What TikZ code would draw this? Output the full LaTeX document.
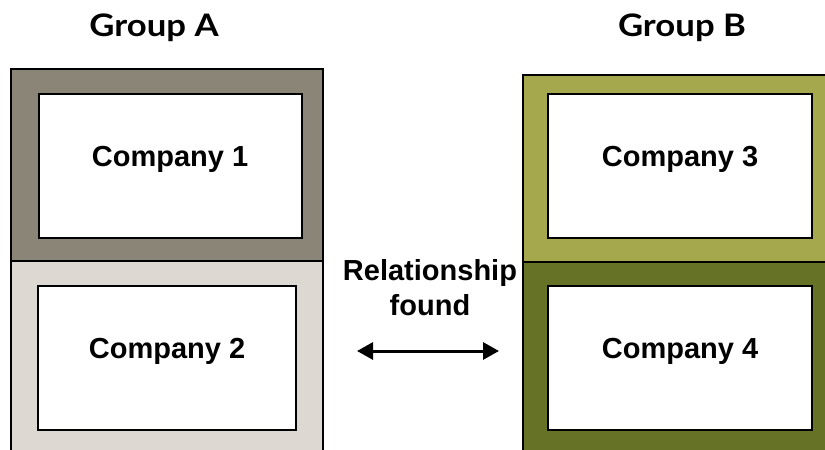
\documentclass[tikz,border=0pt]{standalone}
\usepackage{fontspec}
\setmainfont{Liberation Sans}
\newfontfamily\titlefont{Lato}[FakeStretch=1.12]
\usetikzlibrary{arrows.meta}
\definecolor{taupedark}{HTML}{8B8577}
\definecolor{taupelight}{HTML}{DDD9D2}
\definecolor{olivelight}{HTML}{A5A84C}
\definecolor{olivedark}{HTML}{667225}

\begin{document}
\begin{tikzpicture}[x=1pt, y=-1pt,
    groupbox/.style={draw, line width=1.4pt, inner sep=0pt, minimum width=312pt},
    firmbox/.style={draw, fill=white, line width=2pt, inner sep=0pt, minimum width=263pt, minimum height=144pt,
      font=\fontsize{29}{35}\selectfont\bfseries, text height=20pt, text depth=20pt},
    grouplabel/.style={anchor=base, font=\titlefont\fontsize{31}{37}\selectfont\bfseries}]
        \useasboundingbox (0, 0) rectangle (825, 450);
        \clip (0, 0) rectangle (825, 450);
        % groups
        \node[groupbox, fill=taupelight, minimum height=219pt] (Alow) at (167, 370.5) {};
        \node[groupbox, fill=taupedark, minimum height=192pt] (Aup) at (167, 165) {};
        \node[groupbox, fill=olivedark, minimum height=219pt] (Blow) at (679, 371.5) {};
        \node[groupbox, fill=olivelight, minimum height=187pt] (Bup) at (679, 168.5) {};
        \node[grouplabel] (gA) at (154, 36) {Group A};
        \node[grouplabel] (gB) at (682, 36) {Group B};
        % companies
        \node[firmbox] (C1) at (170, 166) {Company 1};
        \node[firmbox, minimum width=258pt] (C2) at (167, 358) {Company 2};
        \node[firmbox, minimum width=264pt] (C3) at (680, 166) {Company 3};
        \node[firmbox, minimum width=264pt] (C4) at (680, 358) {Company 4};
        % relationship
        \node[align=center, font=\fontsize{29}{35}\selectfont\bfseries] (rel) at (430, 288) {Relationship\\found};
        \coordinate (arrL) at (357, 351);
        \coordinate (arrR) at (499, 351);
        \draw[{Triangle[length=16pt, width=17pt]}-{Triangle[length=16pt, width=17pt]}, line width=3pt] (arrL) -- (arrR);
      \end{tikzpicture}
\end{document}
